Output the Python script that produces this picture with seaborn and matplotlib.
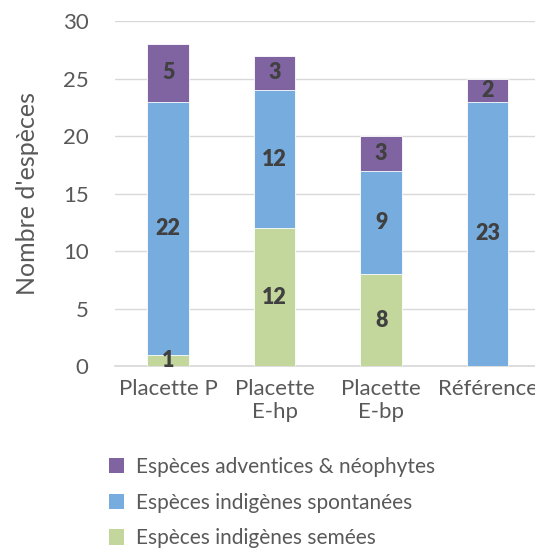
import matplotlib
matplotlib.use("Agg")
import matplotlib.pyplot as plt
from matplotlib.patches import Patch
import seaborn as sns
import pandas as pd

# data
categories = ["Placette P", "Placette\nE-hp", "Placette\nE-bp", "Référence"]
semees = [1, 12, 8, 0]
spontanees = [22, 12, 9, 23]
adventices = [5, 3, 3, 2]
series_names = ["Espèces adventices & néophytes",
                "Espèces indigènes spontanées",
                "Espèces indigènes semées"]

col_adv = "#8064A2"
col_spo = "#76ADDE"
col_sem = "#C3D69B"
text_grey = "#595959"

sns.set_theme(style="white")
plt.rcParams["font.family"] = ["Lato", "DejaVu Sans"]

df = pd.DataFrame({"cat": categories, "sem": semees, "spo": spontanees, "adv": adventices})
df["lvl2"] = df["sem"] + df["spo"]
df["total"] = df["lvl2"] + df["adv"]

fig = plt.figure(figsize=(5.35, 5.5), dpi=100)
ax = fig.add_axes([0.215, 0.3345, 0.796, 0.627])

# overlapping bars: totals first, then lower stacks on top
for col, color in [("total", col_adv), ("lvl2", col_spo), ("sem", col_sem)]:
    sns.barplot(data=df, x="cat", y=col, color=color, width=0.39,
                edgecolor="white", linewidth=0.6, saturation=1, ax=ax, zorder=3)

# segment labels
for i, row in df.iterrows():
    segs = [(0, row["sem"]), (row["sem"], row["spo"]), (row["lvl2"], row["adv"])]
    for base, h in segs:
        if h > 0:
            ax.text(i, base + h / 2, str(h), ha="center", va="center",
                    fontsize=15.5, fontweight="heavy", color="#404040", zorder=5)

ax.set_ylim(0, 30)
ax.set_xlim(-0.5, 3.5)
ax.set_yticks(range(0, 31, 5))
ax.yaxis.grid(True, color="#D9D9D9", linewidth=1)
ax.set_axisbelow(True)
for s in ["top", "right", "left"]:
    ax.spines[s].set_visible(False)
ax.spines["bottom"].set_color("#D9D9D9")
ax.tick_params(axis="both", length=0, labelsize=16, colors=text_grey)
ax.tick_params(axis="y", pad=19)
ax.tick_params(axis="x", pad=9)
ax.set_xlabel("")
ax.set_ylabel("Nombre d'espèces", fontsize=18, color=text_grey, labelpad=17)
plt.setp(ax.get_xticklabels(), linespacing=1.2)

handles = [Patch(facecolor=c, edgecolor="none") for c in [col_adv, col_spo, col_sem]]
fig.legend(handles, series_names, loc="upper left", bbox_to_anchor=(0.168, 0.203),
           frameon=False, fontsize=15, labelcolor=text_grey, handlelength=0.75,
           handleheight=0.75, handletextpad=0.55, labelspacing=0.75)

fig.savefig("out.png", dpi=100)
